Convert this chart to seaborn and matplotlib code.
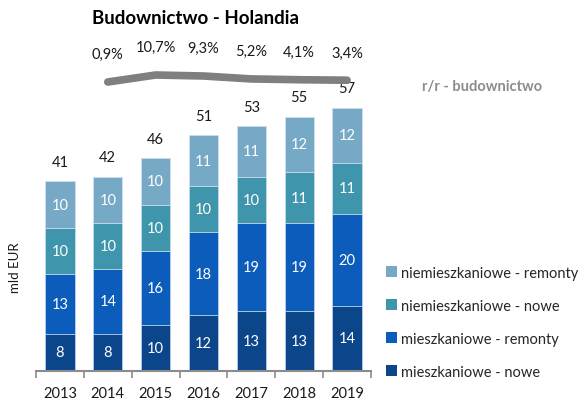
import matplotlib
matplotlib.use('Agg')
import matplotlib.pyplot as plt
import numpy as np
import seaborn as sns
from matplotlib.patches import Patch

years = ['2013', '2014', '2015', '2016', '2017', '2018', '2019']
mieszk_nowe = [8, 8, 10, 12, 13, 13, 14]
mieszk_remonty = [13, 14, 16, 18, 19, 19, 20]
niemieszk_nowe = [10, 10, 10, 10, 10, 11, 11]
niemieszk_remonty = [10, 10, 10, 11, 11, 12, 12]
totals = [41, 42, 46, 51, 53, 55, 57]
growth_years = ['2014', '2015', '2016', '2017', '2018', '2019']
growth_labels = ['0,9%', '10,7%', '9,3%', '5,2%', '4,1%', '3,4%']
growth = [0.9, 10.7, 9.3, 5.2, 4.1, 3.4]

series = [
    ('mieszkaniowe - nowe', mieszk_nowe, '#0B468B'),
    ('mieszkaniowe - remonty', mieszk_remonty, '#0C5DBB'),
    ('niemieszkaniowe - nowe', niemieszk_nowe, '#3F96AC'),
    ('niemieszkaniowe - remonty', niemieszk_remonty, '#75A9C6'),
]

sns.set_style('white')
plt.rcParams['font.family'] = ['Lato', 'DejaVu Sans']

fig = plt.figure(figsize=(5.87, 4.02), dpi=100)
ax_rect = [36 / 587, 30.3 / 402, 335 / 587, 277 / 402]
ax = fig.add_axes(ax_rect)

# stacked bars
bottom = np.zeros(len(years))
for name, vals, col in series:
    sns.barplot(x=years, y=vals, bottom=bottom, color=col, width=0.61,
                edgecolor='#d8e4f0', linewidth=0.4, saturation=1, ax=ax)
    for i, v in enumerate(vals):
        ax.text(i, bottom[i] + v / 2, str(v), ha='center', va='center',
                color='white', fontsize=10.5)
    bottom = bottom + np.array(vals)

for i, t in enumerate(totals):
    ax.annotate(str(t), xy=(i, bottom[i]), xytext=(0, 14), textcoords='offset points',
                ha='center', va='center', fontsize=10.5, color='#1a1a1a',
                annotation_clip=False)

ax.set_xlim(-0.5, 6.5)
ax.set_ylim(0, 60)
sns.despine(ax=ax, left=True)
ax.spines['bottom'].set_color('#8c8c8c')
ax.spines['bottom'].set_linewidth(1.5)
ax.set_yticks([])
ax.set_xticks(np.arange(-0.5, 7, 1), minor=True)
ax.tick_params(axis='x', which='minor', length=5, width=1.2, color='#8c8c8c', bottom=True)
ax.tick_params(axis='x', which='major', length=0, pad=11, labelsize=10.5, labelcolor='#1a1a1a')
ax.set_xlabel('')

fig.text(15 / 587, 1 - 268 / 402, 'mld EUR', rotation=90, ha='center', va='center',
         fontsize=9.5, color='#1a1a1a')

# r/r growth line, aligned with bar positions
gx = fig.add_axes([ax_rect[0], 1 - 86 / 402, ax_rect[2], 14 / 402])
gx.axis('off')
gpos = [years.index(y) for y in growth_years]
sns.lineplot(x=gpos, y=growth, ax=gx, color='#7f7f7f',
             linewidth=5.5, solid_capstyle='round', clip_on=False)
gx.set_xlim(-0.5, 6.5)
gx.set_ylim(-3.3, 16.3)
for p, v, lab in zip(gpos, growth, growth_labels):
    gx.annotate(lab, xy=(p, v), xytext=(0, 20), textcoords='offset points',
                ha='center', va='center', fontsize=10.5, color='#1a1a1a',
                annotation_clip=False)

fig.text(482 / 587, 1 - 87 / 402, 'r/r - budownictwo', ha='center', va='center',
         fontsize=10.5, fontweight='bold', color='#8c8c8c')

fig.text(92 / 587, 1 - 18 / 402, 'Budownictwo - Holandia', ha='left', va='center',
         fontsize=13.5, fontweight='bold', color='#000000')

handles = [Patch(facecolor=c, edgecolor='none', label=n) for n, _, c in series][::-1]
fig.legend(handles=handles, loc='upper left', bbox_to_anchor=(380 / 587, 1 - 261 / 402),
           frameon=False, fontsize=10.5, handlelength=0.75, handleheight=0.75,
           handletextpad=0.3, labelspacing=1.3, borderaxespad=0)

fig.savefig('out.png', dpi=100)
